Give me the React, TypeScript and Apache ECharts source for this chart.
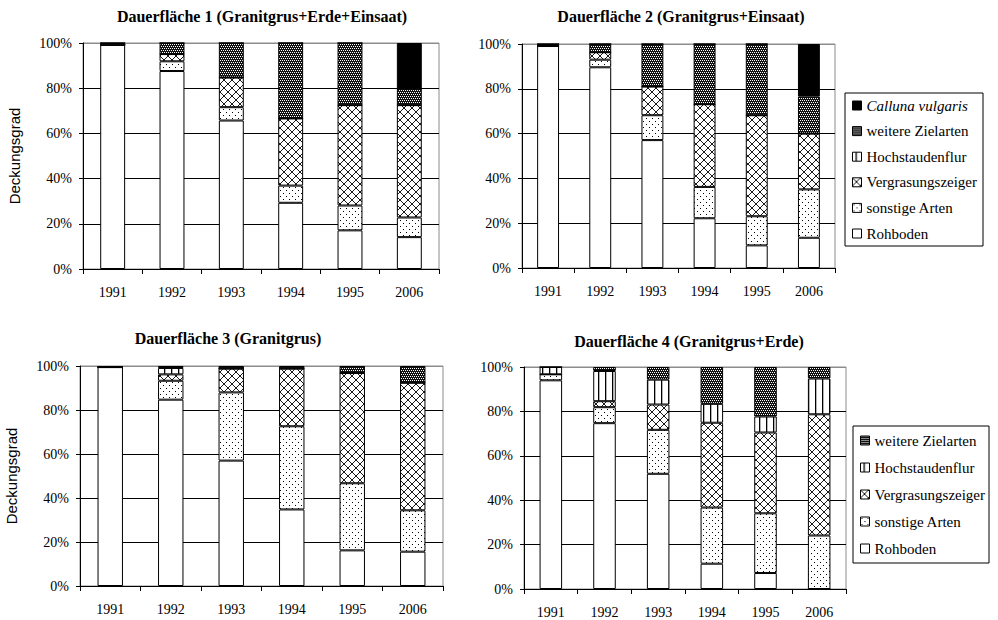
import React, { useEffect, useRef } from "react";
import * as echarts from "echarts";

const years = ["1991", "1992", "1993", "1994", "1995", "2006"];
const yTicks = [0, 20, 40, 60, 80, 100];
const categoryNames = [
  "Rohboden",
  "sonstige Arten",
  "Vergrasungszeiger",
  "Hochstaudenflur",
  "weitere Zielarten",
  "Calluna vulgaris",
];
const titles = [
  "Dauerfläche 1 (Granitgrus+Erde+Einsaat)",
  "Dauerfläche 2 (Granitgrus+Einsaat)",
  "Dauerfläche 3 (Granitgrus)",
  "Dauerfläche 4 (Granitgrus+Erde)",
];
const yAxisTitle = "Deckungsgrad";

// Dauerfläche 1
const p1Rohboden = [99.2, 87.6, 65.7, 29.3, 17.1, 14.1];
const p1Sonstige = [0, 4.3, 5.9, 7.6, 11.0, 8.7];
const p1Vergras = [0, 3.2, 13.1, 29.7, 44.4, 49.7];
const p1Hoch = [0, 0, 0, 0, 0, 0];
const p1Weitere = [0.8, 4.9, 15.3, 33.4, 27.5, 7.4];
const p1Calluna = [0, 0, 0, 0, 0, 20.1];

// Dauerfläche 2
const p2Rohboden = [99.1, 89.6, 57.1, 22.2, 10.1, 13.5];
const p2Sonstige = [0, 3.4, 11.1, 14.0, 13.0, 21.6];
const p2Vergras = [0, 3.3, 12.8, 36.9, 45.1, 24.9];
const p2Hoch = [0, 0, 0, 0, 0, 0];
const p2Weitere = [0.9, 3.7, 19.0, 26.9, 31.8, 16.6];
const p2Calluna = [0, 0, 0, 0, 0, 23.4];

// Dauerfläche 3
const p3Rohboden = [99.5, 84.7, 57.0, 34.8, 16.2, 15.6];
const p3Sonstige = [0, 8.6, 31.0, 37.8, 30.5, 18.8];
const p3Vergras = [0, 2.9, 10.8, 26.2, 50.1, 58.0];
const p3Hoch = [0, 2.9, 0, 0, 0, 0];
const p3Weitere = [0.5, 0.9, 1.2, 1.2, 3.2, 7.6];

// Dauerfläche 4
const p4Rohboden = [94.0, 74.7, 51.9, 11.4, 7.2, 0];
const p4Sonstige = [2.7, 7.2, 19.8, 25.3, 26.9, 24.1];
const p4Vergras = [0, 2.7, 11.4, 38.2, 36.4, 54.6];
const p4Hoch = [3.3, 13.6, 11.2, 8.5, 7.2, 16.1];
const p4Weitere = [0, 1.8, 5.7, 16.6, 22.3, 5.2];

const legend1Items = [
  "Calluna vulgaris",
  "weitere Zielarten",
  "Hochstaudenflur",
  "Vergrasungszeiger",
  "sonstige Arten",
  "Rohboden",
];
const legend2Items = [
  "weitere Zielarten",
  "Hochstaudenflur",
  "Vergrasungszeiger",
  "sonstige Arten",
  "Rohboden",
];

function makePattern(w: number, h: number, bg: string, draw: (ctx: CanvasRenderingContext2D) => void) {
  const c = document.createElement("canvas");
  c.width = w;
  c.height = h;
  const ctx = c.getContext("2d") as CanvasRenderingContext2D;
  ctx.fillStyle = bg;
  ctx.fillRect(0, 0, w, h);
  draw(ctx);
  return { image: c.toDataURL(), repeat: "repeat", imageWidth: w, imageHeight: h };
}

export default function App() {
  const ref = useRef<HTMLDivElement>(null);
  useEffect(() => {
    if (!ref.current) return;
    const chart = echarts.init(ref.current, null, { renderer: "svg" });

    const dots = makePattern(6, 6, "#fff", (ctx) => {
      ctx.fillStyle = "#000";
      ctx.fillRect(1, 1, 1, 1);
      ctx.fillRect(4, 4, 1, 1);
    });
    const cross = makePattern(8, 8, "#fff", (ctx) => {
      ctx.strokeStyle = "#1a1a1a";
      ctx.lineWidth = 1;
      ctx.beginPath();
      ctx.moveTo(0, 0);
      ctx.lineTo(8, 8);
      ctx.moveTo(8, 0);
      ctx.lineTo(0, 8);
      ctx.stroke();
    });
    const stripes = makePattern(7, 4, "#fff", (ctx) => {
      ctx.fillStyle = "#000";
      ctx.fillRect(3, 0, 1.3, 4);
    });
    const dark = makePattern(4, 4, "#111", (ctx) => {
      ctx.fillStyle = "#fff";
      ctx.fillRect(0, 0, 1, 1);
      ctx.fillRect(2, 0, 1, 1);
      ctx.fillRect(1, 2, 1, 1);
      ctx.fillRect(3, 2, 1, 1);
    });
    const fills: any[] = ["#ffffff", dots, cross, stripes, dark, "#000000"];

    const panels = [
      [p1Rohboden, p1Sonstige, p1Vergras, p1Hoch, p1Weitere, p1Calluna],
      [p2Rohboden, p2Sonstige, p2Vergras, p2Hoch, p2Weitere, p2Calluna],
      [p3Rohboden, p3Sonstige, p3Vergras, p3Hoch, p3Weitere],
      [p4Rohboden, p4Sonstige, p4Vergras, p4Hoch, p4Weitere],
    ];

    const grids = [
      { left: 83, top: 43, width: 356, height: 226 },
      { left: 522, top: 44, width: 313, height: 224 },
      { left: 80, top: 366, width: 363, height: 220 },
      { left: 524, top: 367, width: 322, height: 222 },
    ];
    const titlePos = [
      [262, 8],
      [681, 8],
      [228, 330],
      [689, 333],
    ];

    const series: any[] = [];
    panels.forEach((panel, gi) => {
      panel.forEach((vals, si) => {
        series.push({
          type: "bar",
          name: categoryNames[si],
          xAxisIndex: gi,
          yAxisIndex: gi,
          stack: "s" + gi,
          barWidth: "42%",
          data: vals,
          itemStyle: { color: fills[si], borderColor: "#000", borderWidth: 1 },
          emphasis: { disabled: true },
        });
      });
    });

    const serif = '"Liberation Serif", "Times New Roman", serif';
    const legendText = {
      fontFamily: serif,
      fontSize: 15,
      color: "#000",
      rich: { i: { fontFamily: serif, fontSize: 15, fontStyle: "italic", color: "#000" } },
    };

    const option: any = {
      animation: false,
      backgroundColor: "#fff",
      grid: grids.map((g) => ({
        ...g,
        show: true,
        borderColor: "#8c8c8c",
        borderWidth: 1,
        backgroundColor: "transparent",
      })),
      xAxis: grids.map((_, i) => ({
        type: "category",
        gridIndex: i,
        data: years,
        axisLine: { show: true, lineStyle: { color: "#000", width: 1 } },
        axisTick: { show: true, length: 5, interval: 0, lineStyle: { color: "#000" } },
        axisLabel: { fontFamily: serif, fontSize: 14, color: "#000", margin: 16, interval: 0 },
        splitLine: { show: false },
      })),
      yAxis: grids.map((_, i) => ({
        type: "value",
        gridIndex: i,
        min: yTicks[0],
        max: yTicks[yTicks.length - 1],
        interval: yTicks[1] - yTicks[0],
        name: i % 2 === 0 ? yAxisTitle : "",
        nameLocation: "middle",
        nameGap: 61,
        nameTextStyle: { fontFamily: '"Liberation Sans", Arial, sans-serif', fontSize: 15, color: "#000" },
        axisLine: { show: true, lineStyle: { color: "#000", width: 1 } },
        axisTick: { show: true, length: 4, lineStyle: { color: "#000" } },
        axisLabel: { fontFamily: serif, fontSize: 14, color: "#000", margin: 11, formatter: "{value}%" },
        splitLine: {
          show: true,
          lineStyle: { color: ["#000", "#000", "#000", "#000", "#000", "#8c8c8c"], width: 1 },
        },
      })),
      legend: [
        {
          data: legend1Items,
          orient: "vertical",
          left: 845,
          top: 93,
          padding: [5, 6, 5, 7],
          itemGap: 10.6,
          itemWidth: 9,
          itemHeight: 9,
          icon: "rect",
          borderColor: "#000",
          borderWidth: 1,
          selectedMode: false,
          itemStyle: { borderColor: "#000", borderWidth: 1 },
          formatter: (name: string) => (name === "Calluna vulgaris" ? "{i|" + name + "}" : name),
          textStyle: legendText,
        },
        {
          data: legend2Items,
          orient: "vertical",
          left: 853,
          top: 426,
          padding: [7, 4, 7, 7],
          itemGap: 12,
          itemWidth: 9,
          itemHeight: 9,
          icon: "rect",
          borderColor: "#000",
          borderWidth: 1,
          selectedMode: false,
          itemStyle: { borderColor: "#000", borderWidth: 1 },
          textStyle: legendText,
        },
      ],
      graphic: titles.map((t, i) => ({
        type: "text",
        x: titlePos[i][0],
        y: titlePos[i][1],
        style: {
          text: t,
          font: "bold 16px " + serif,
          fill: "#000",
          textAlign: "center",
          textVerticalAlign: "top",
        },
      })),
      series,
    };

    chart.setOption(option);
    return () => chart.dispose();
  }, []);

  return (
    <div
      ref={ref}
      style={{ position: "fixed", left: 0, top: 0, width: 998, height: 620, background: "#fff" }}
    />
  );
}
